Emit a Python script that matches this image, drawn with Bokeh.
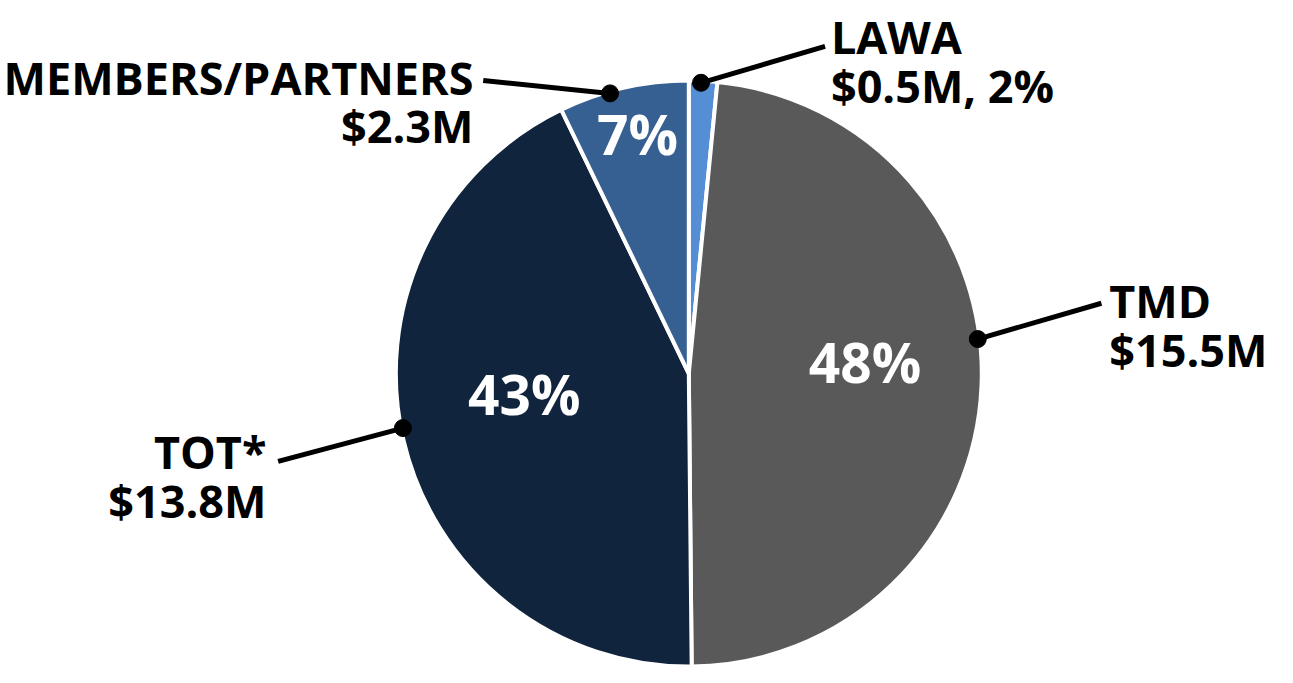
import math
from bokeh.plotting import figure
from bokeh.models import Range1d, ColumnDataSource
from bokeh.core.properties import value
from bokeh.embed import file_html
from bokeh.resources import INLINE

# ---- data ----
names = ["LAWA", "TMD", "TOT*", "MEMBERS/PARTNERS"]
amounts = [0.5, 15.5, 13.8, 2.3]          # $ millions
percents = [2, 48, 43, 7]
colors = ["#558ED5", "#595959", "#10243E", "#376092"]
pct_outside = [True, False, False, False]  # LAWA shows its % in the outer label

# ---- layout (reference pixel coordinates) ----
REF_W, REF_H = 1293, 683
W, H = 1277, 667
s = H / REF_H
xspan = W / s
x0 = (REF_W - xspan) / 2

CX, CY, R = 697.5, 382, 300
inner_pos = [None, (878, 370), (529, 402), (645, 136)]
dot_angle = [2.4, 83.2, 259.2, 344.3]        # degrees clockwise from top
line_end = [(837, 47), (1120, 310), (277, 472), (487, 82)]
label_x = [843, 1128, 265, 477]
label_base = [(37, 87), (307, 357), (462, 512), (79, 128)]
label_align = ["left", "left", "right", "right"]


def Y(y):
    return REF_H - y


p = figure(width=W, height=H, x_range=Range1d(x0, x0 + xspan),
           y_range=Range1d(0, REF_H), output_backend="svg",
           toolbar_location=None, x_axis_type=None, y_axis_type=None,
           min_border=0, outline_line_color=None)
p.background_fill_color = "white"

total = sum(amounts)
cum = 0.0
starts, ends = [], []
for a in amounts:
    f = a / total
    starts.append(math.pi / 2 - 2 * math.pi * cum)
    cum += f
    ends.append(math.pi / 2 - 2 * math.pi * cum)

src = ColumnDataSource(dict(start=starts, end=ends, color=colors))
p.wedge(x=CX, y=Y(CY), radius=R, start_angle="start", end_angle="end",
        direction="clock", fill_color="color", line_color="white",
        line_width=4, source=src)

# inner percentage labels
ix, iy, it = [], [], []
for pos, pc in zip(inner_pos, percents):
    if pos is None:
        continue
    ix.append(pos[0]); iy.append(Y(pos[1])); it.append(f"{pc}%")
p.text(x=ix, y=iy, text=it, text_color="white", text_font=value("Open Sans"),
       text_font_style="bold", text_font_size="55px", text_align="center",
       text_baseline="middle")

# leader lines and dots
dx, dy = [], []
for ang in dot_angle:
    a = math.radians(ang)
    dx.append(CX + (R - 2) * math.sin(a))
    dy.append(Y(CY) + (R - 2) * math.cos(a))
p.segment(x0=dx, y0=dy, x1=[e[0] for e in line_end], y1=[Y(e[1]) for e in line_end],
          line_color="black", line_width=5)
p.scatter(x=dx, y=dy, size=17, color="black")

# outer labels
for i, nm in enumerate(names):
    l2 = f"${amounts[i]}M" + (f", {percents[i]}%" if pct_outside[i] else "")
    for txt, base in zip([nm, l2], label_base[i]):
        p.text(x=[label_x[i]], y=[Y(base)], text=[txt], text_color="black",
               text_font=value("Open Sans"), text_font_style="bold",
               text_font_size="45px", text_align=label_align[i],
               text_baseline="alphabetic")

open("out.html", "w").write(file_html(p, INLINE))
